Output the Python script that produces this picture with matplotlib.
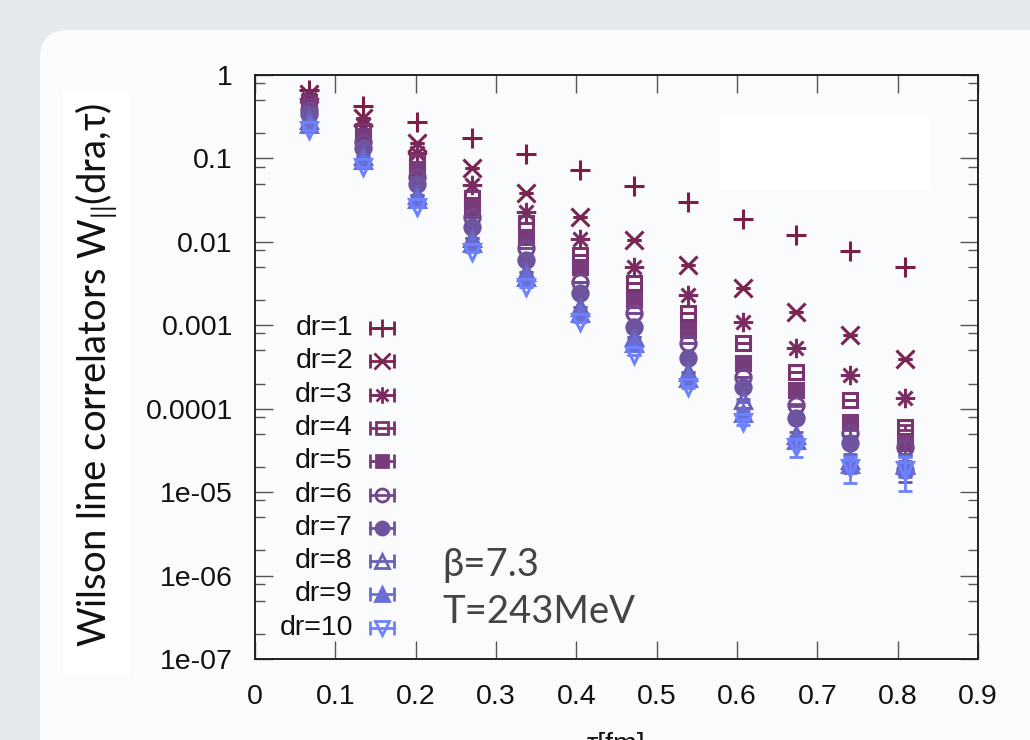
import matplotlib
matplotlib.use("Agg")
import matplotlib.pyplot as plt
from matplotlib.patches import FancyBboxPatch, Rectangle
from matplotlib.lines import Line2D
from matplotlib.path import Path
from matplotlib.transforms import IdentityTransform
import matplotlib.ticker as mticker

# ---------------- data ----------------
tau = [0.067, 0.135, 0.202, 0.270, 0.337, 0.404, 0.472, 0.539, 0.607, 0.674, 0.741, 0.809]

w_dr1 = [0.66, 0.43, 0.27, 0.176, 0.113, 0.073, 0.047, 0.030, 0.019, 0.0121, 0.0078, 0.0050]
w_dr2 = [0.59, 0.305, 0.153, 0.077, 0.0385, 0.0199, 0.0105, 0.00528, 0.00280, 0.00144, 0.000765, 0.000394]
w_dr3 = [0.516, 0.252, 0.116, 0.048, 0.0228, 0.0108, 0.0050, 0.00231, 0.00109, 0.000534, 0.000254, 0.000134]
w_dr4 = [0.475, 0.213, 0.0906, 0.0335, 0.0168, 0.00696, 0.00321, 0.00140, 0.000613, 0.000275, 0.000127, 6.0e-05]
w_dr5 = [0.425, 0.186, 0.0747, 0.0262, 0.0114, 0.0050, 0.00201, 0.000879, 0.000353, 0.000168, 6.9e-05, 3.9e-05]
w_dr6 = [0.381, 0.157, 0.0599, 0.0199, 0.00844, 0.00330, 0.00140, 0.000613, 0.000240, 0.000111, 5.1e-05, 3.5e-05]
w_dr7 = [0.341, 0.133, 0.0494, 0.0151, 0.00606, 0.00244, 0.000954, 0.000405, 0.000182, 7.7e-05, 3.9e-05, 1.84e-05]
w_dr8 = [0.289, 0.107, 0.0365, 0.0111, 0.00435, 0.00166, 0.000724, 0.000275, 0.000127, 4.8e-05, 2.4e-05, 2.2e-05]
w_dr9 = [0.259, 0.0958, 0.0326, 0.00969, 0.00379, 0.00140, 0.000613, 0.000233, 8.9e-05, 4.2e-05, 2.2e-05, 2.1e-05]
w_dr10 = [0.219, 0.0789, 0.0262, 0.00756, 0.00288, 0.00109, 0.000441, 0.000182, 6.9e-05, 3.5e-05, 1.95e-05, 1.84e-05]

e_dr1 = [0, 0, 0, 0, 0, 0, 0, 0, 0, 0, 0, 0]
e_dr2 = [0, 0, 0, 0, 0, 0, 0, 0, 0, 0, 0, 0]
e_dr3 = [0, 0, 0, 0, 0, 0, 0, 0, 0, 0, 0, 0]
e_dr4 = [0, 0, 0, 0, 0, 0, 0, 0, 0, 0, 0, 0.4e-05]
e_dr5 = [0, 0, 0, 0, 0, 0, 0, 0, 0, 0, 0.3e-05, 0.5e-05]
e_dr6 = [0, 0, 0, 0, 0, 0, 0, 0, 0, 0.3e-05, 0.4e-05, 0.6e-05]
e_dr7 = [0, 0, 0, 0, 0, 0, 0, 0, 0.4e-05, 0.4e-05, 0.4e-05, 0.5e-05]
e_dr8 = [0, 0, 0, 0, 0, 0, 0, 0.4e-05, 0.5e-05, 0.5e-05, 0.5e-05, 0.6e-05]
e_dr9 = [0, 0, 0, 0, 0, 0, 0, 0.5e-05, 0.6e-05, 0.5e-05, 0.5e-05, 0.6e-05]
e_dr10 = [0, 0, 0, 0, 0, 0, 0.4e-05, 0.5e-05, 0.6e-05, 0.84e-05, 0.66e-05, 0.8e-05]

series = [w_dr1, w_dr2, w_dr3, w_dr4, w_dr5, w_dr6, w_dr7, w_dr8, w_dr9, w_dr10]
errors = [e_dr1, e_dr2, e_dr3, e_dr4, e_dr5, e_dr6, e_dr7, e_dr8, e_dr9, e_dr10]
labels = ["dr=1", "dr=2", "dr=3", "dr=4", "dr=5", "dr=6", "dr=7", "dr=8", "dr=9", "dr=10"]

xticks = [0, 0.1, 0.2, 0.3, 0.4, 0.5, 0.6, 0.7, 0.8, 0.9]
xticklabels = ["0", "0.1", "0.2", "0.3", "0.4", "0.5", "0.6", "0.7", "0.8", "0.9"]
yticks = [1, 0.1, 0.01, 0.001, 0.0001, 1e-05, 1e-06, 1e-07]
yticklabels = ["1", "0.1", "0.01", "0.001", "0.0001", "1e-05", "1e-06", "1e-07"]

# ---------------- styles ----------------
colors = ["#7b1f47", "#7a2452", "#7a2b5f", "#79336e", "#783c7c", "#74478c",
          "#6e539e", "#6a61b8", "#6a6dd4", "#6c82ff"]

ast_path = Path([(-1, 0), (1, 0), (0, -1), (0, 1), (-0.72, -0.72), (0.72, 0.72),
                 (-0.72, 0.72), (0.72, -0.72)],
                [Path.MOVETO, Path.LINETO] * 4)
markers = ["+", "x", ast_path, "s", "s", "o", "o", "^", "^", "v"]
filled = [True, True, True, False, True, False, True, False, True, False]
msizes = [15, 13, 14, 10, 10, 11, 11, 12, 12, 12]

plt.rcParams["font.family"] = ["Liberation Sans", "DejaVu Sans"]

W, H = 1030, 740
fig = plt.figure(figsize=(W / 100, H / 100), dpi=100)
fig.patch.set_facecolor("#e5e9ec")

card = FancyBboxPatch((40, -60), 1100, H - 30 + 60,
                      boxstyle="round,pad=0,rounding_size=28",
                      transform=IdentityTransform(), facecolor="#fafbfc",
                      edgecolor="none", zorder=-10)
fig.add_artist(card)
fig.add_artist(Rectangle((63, H - 675), 67, 583, transform=IdentityTransform(),
                         facecolor="white", edgecolor="none", zorder=-5))
fig.add_artist(Rectangle((720, H - 190), 210, 75, transform=IdentityTransform(),
                         facecolor="white", edgecolor="none", zorder=-5))

ax = fig.add_axes([255 / W, 1 - 659 / H, (978 - 255) / W, (659 - 75) / H])
ax.set_facecolor("none")
ax.set_yscale("log")
ax.set_xlim(0, 0.9)
ax.set_ylim(1e-07, 1)

for i, (vals, err) in enumerate(zip(series, errors)):
    c = colors[i]
    ax.errorbar(tau, vals, yerr=err, fmt="none", ecolor=c, elinewidth=2.0,
                capsize=5, capthick=2.0, zorder=3 + i)
    ax.plot(tau, vals, linestyle="none", marker=markers[i], markersize=msizes[i],
            markeredgewidth=2.2, color=c, markeredgecolor=c,
            markerfacecolor=c if filled[i] else "none", zorder=3 + i)

ax.set_xticks(xticks)
ax.set_xticklabels(xticklabels)
ax.yaxis.set_major_locator(mticker.FixedLocator(yticks))
ax.yaxis.set_major_formatter(mticker.FixedFormatter(yticklabels))
ax.yaxis.set_minor_locator(mticker.LogLocator(base=10, subs=[2, 5, 8], numticks=20))
ax.yaxis.set_minor_formatter(mticker.NullFormatter())

for s in ax.spines.values():
    s.set_color("#222222")
    s.set_linewidth(1.4)
ax.tick_params(axis="both", which="major", direction="in", length=13, width=1.0,
               color="#555555", top=True, right=True, labelsize=20.5,
               labelcolor="#111111")
ax.tick_params(axis="y", which="minor", direction="in", length=7, width=1.0,
               color="#555555", right=True)
ax.tick_params(axis="x", which="major", pad=18)
ax.tick_params(axis="y", which="major", pad=16)

# legend (gnuplot style, drawn by hand)
for i, lab in enumerate(labels):
    yy = 1 - (328 + i * 33.3) / H
    fig.text(353 / W, yy, lab, ha="right", va="center", fontsize=20.5, color="#111111")
    c = colors[i]
    x0, x1 = 370 / W, 394 / W
    fig.add_artist(Line2D([x0, x1], [yy, yy], color=c, lw=2.0, zorder=20))
    fig.add_artist(Line2D([x0, x1], [yy, yy], color=c, lw=0, marker="|",
                          markersize=9.5, markeredgewidth=2.0, zorder=20))
    fig.add_artist(Line2D([(x0 + x1) / 2], [yy], color=c, lw=0, marker=markers[i],
                          markersize=msizes[i] * 0.85, markeredgewidth=2.0,
                          markeredgecolor=c,
                          markerfacecolor=c if filled[i] else "none", zorder=21))

# slide overlay texts
fig.text(97 / W, 1 - 375 / H, r"Wilson line correlators W$\mathregular{_{||}}$(dra,τ)",
         rotation=90, ha="center", va="center", fontsize=27.5, color="#111111",
         family=["Lato", "DejaVu Sans"])
fig.text(442 / W, 1 - 565 / H, "β=7.3", ha="left", va="center", fontsize=27.5,
         color="#444444", family=["Lato", "DejaVu Sans"])
fig.text(442 / W, 1 - 612 / H, "T=243MeV", ha="left", va="center", fontsize=27.5,
         color="#444444", family=["Lato", "DejaVu Sans"])
fig.text(616 / W, 1 - 745 / H, "τ[fm]", ha="center", va="center", fontsize=20.5,
         color="#111111")

fig.savefig("out.png", dpi=100, facecolor=fig.get_facecolor())
